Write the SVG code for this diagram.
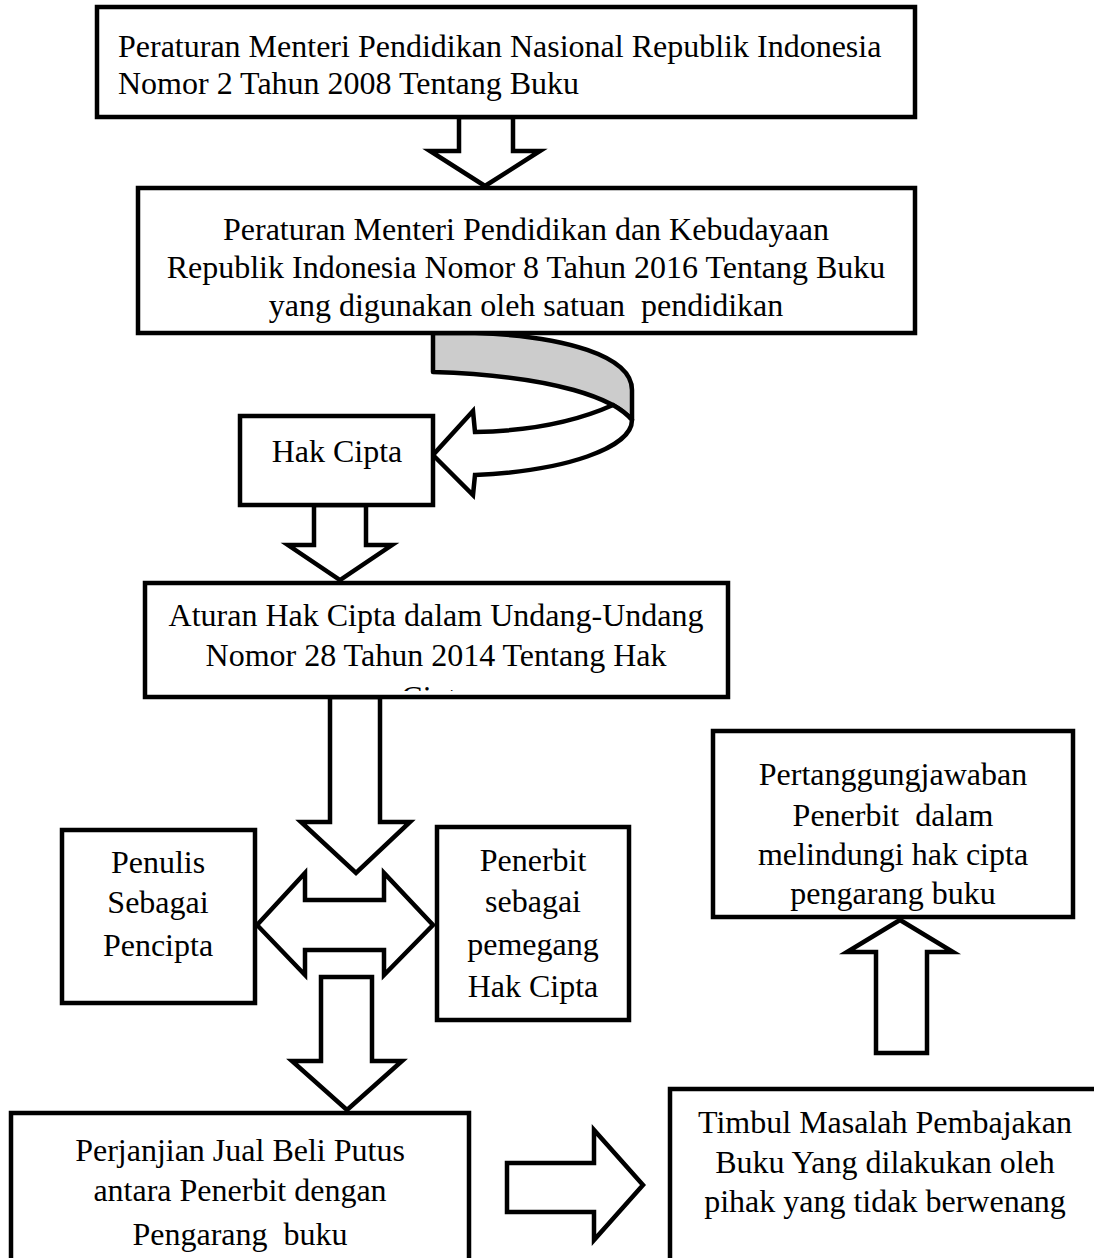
<svg xmlns="http://www.w3.org/2000/svg" width="1094" height="1258" viewBox="0 0 1094 1258">
<style>
.box{fill:#fff;stroke:#000;stroke-width:4.5}
.arr{fill:#fff;stroke:#000;stroke-width:4.5;stroke-linejoin:miter}
text{font-family:"Liberation Serif","Times New Roman",serif;font-size:32px;fill:#000;white-space:pre}
.c{text-anchor:middle}
</style>
<defs>
<clipPath id="clip4"><rect x="148" y="585" width="578" height="106"/></clipPath>
</defs>
<g id="connectors">
<polygon class="arr" points="459,117 513,117 513,151 540,151 485,186 430,151 459,151"/>
<path d="M433,333 L475,333 C565,336 632,356 632,390 L632,420 C615,400 560,376 433,372 Z" fill="#ccc" stroke="#000" stroke-width="4.5" stroke-linejoin="round"/>
<path class="arr" d="M613,405 C575,422 530,431 475,432 L473,411 L433,455 L473,495 L475,475 C565,471 632,448 632,420 C626,413 620,409 613,405 Z"/>
<polygon class="arr" points="314,505 366,505 366,545 392,545 340,580 288,545 314,545"/>
<polygon class="arr" points="330,697 380,697 380,822 410,822 356,873 301,822 330,822"/>
<polygon class="arr" points="257,925 305,873 305,900 384,900 384,873 433,925 384,975 384,950 305,950 305,975"/>
<polygon class="arr" points="321,977 372,977 372,1061 402,1061 347,1110 292,1061 321,1061"/>
<polygon class="arr" points="507,1163 594,1163 594,1130 643,1185 594,1240 594,1212 507,1212"/>
<polygon class="arr" points="876,1053 927,1053 927,952 953,952 900,920 847,952 876,952"/>
</g>
<g id="n1">
<rect class="box" x="97" y="7" width="818" height="110"/>
<text x="118" y="57">Peraturan Menteri Pendidikan Nasional Republik Indonesia</text>
<text x="118" y="94">Nomor 2 Tahun 2008 Tentang Buku</text>
</g>
<g id="n2">
<rect class="box" x="138" y="188" width="777" height="145"/>
<text class="c" x="526" y="240">Peraturan Menteri Pendidikan dan Kebudayaan</text>
<text class="c" x="526" y="278">Republik Indonesia Nomor 8 Tahun 2016 Tentang Buku</text>
<text class="c" x="526" y="316">yang digunakan oleh satuan  pendidikan</text>
</g>
<g id="n3">
<rect class="box" x="240" y="416" width="193" height="89"/>
<text class="c" x="337" y="462">Hak Cipta</text>
</g>
<g id="n4">
<rect class="box" x="145" y="583" width="583" height="114"/>
<text class="c" x="436" y="626">Aturan Hak Cipta dalam Undang-Undang</text>
<text class="c" x="436" y="666">Nomor 28 Tahun 2014 Tentang Hak</text>
<text class="c" x="436" y="708" clip-path="url(#clip4)">Cipta</text>
</g>
<g id="n5">
<rect class="box" x="62" y="830" width="193" height="173"/>
<text class="c" x="158" y="873">Penulis</text>
<text class="c" x="158" y="913">Sebagai</text>
<text class="c" x="158" y="956">Pencipta</text>
</g>
<g id="n6">
<rect class="box" x="437" y="827" width="192" height="193"/>
<text class="c" x="533" y="871">Penerbit</text>
<text class="c" x="533" y="912">sebagai</text>
<text class="c" x="533" y="955">pemegang</text>
<text class="c" x="533" y="997">Hak Cipta</text>
</g>
<g id="n7">
<rect class="box" x="11" y="1113" width="458" height="160"/>
<text class="c" x="240" y="1161">Perjanjian Jual Beli Putus</text>
<text class="c" x="240" y="1201">antara Penerbit dengan</text>
<text class="c" x="240" y="1245">Pengarang  buku</text>
</g>
<g id="n8">
<rect class="box" x="670" y="1089" width="440" height="190"/>
<text class="c" x="885" y="1133">Timbul Masalah Pembajakan</text>
<text class="c" x="885" y="1173">Buku Yang dilakukan oleh</text>
<text class="c" x="885" y="1212">pihak yang tidak berwenang</text>
</g>
<g id="n9">
<rect class="box" x="713" y="731" width="360" height="186"/>
<text class="c" x="893" y="785">Pertanggungjawaban</text>
<text class="c" x="893" y="826">Penerbit  dalam</text>
<text class="c" x="893" y="865">melindungi hak cipta</text>
<text class="c" x="893" y="904">pengarang buku</text>
</g>
</svg>
